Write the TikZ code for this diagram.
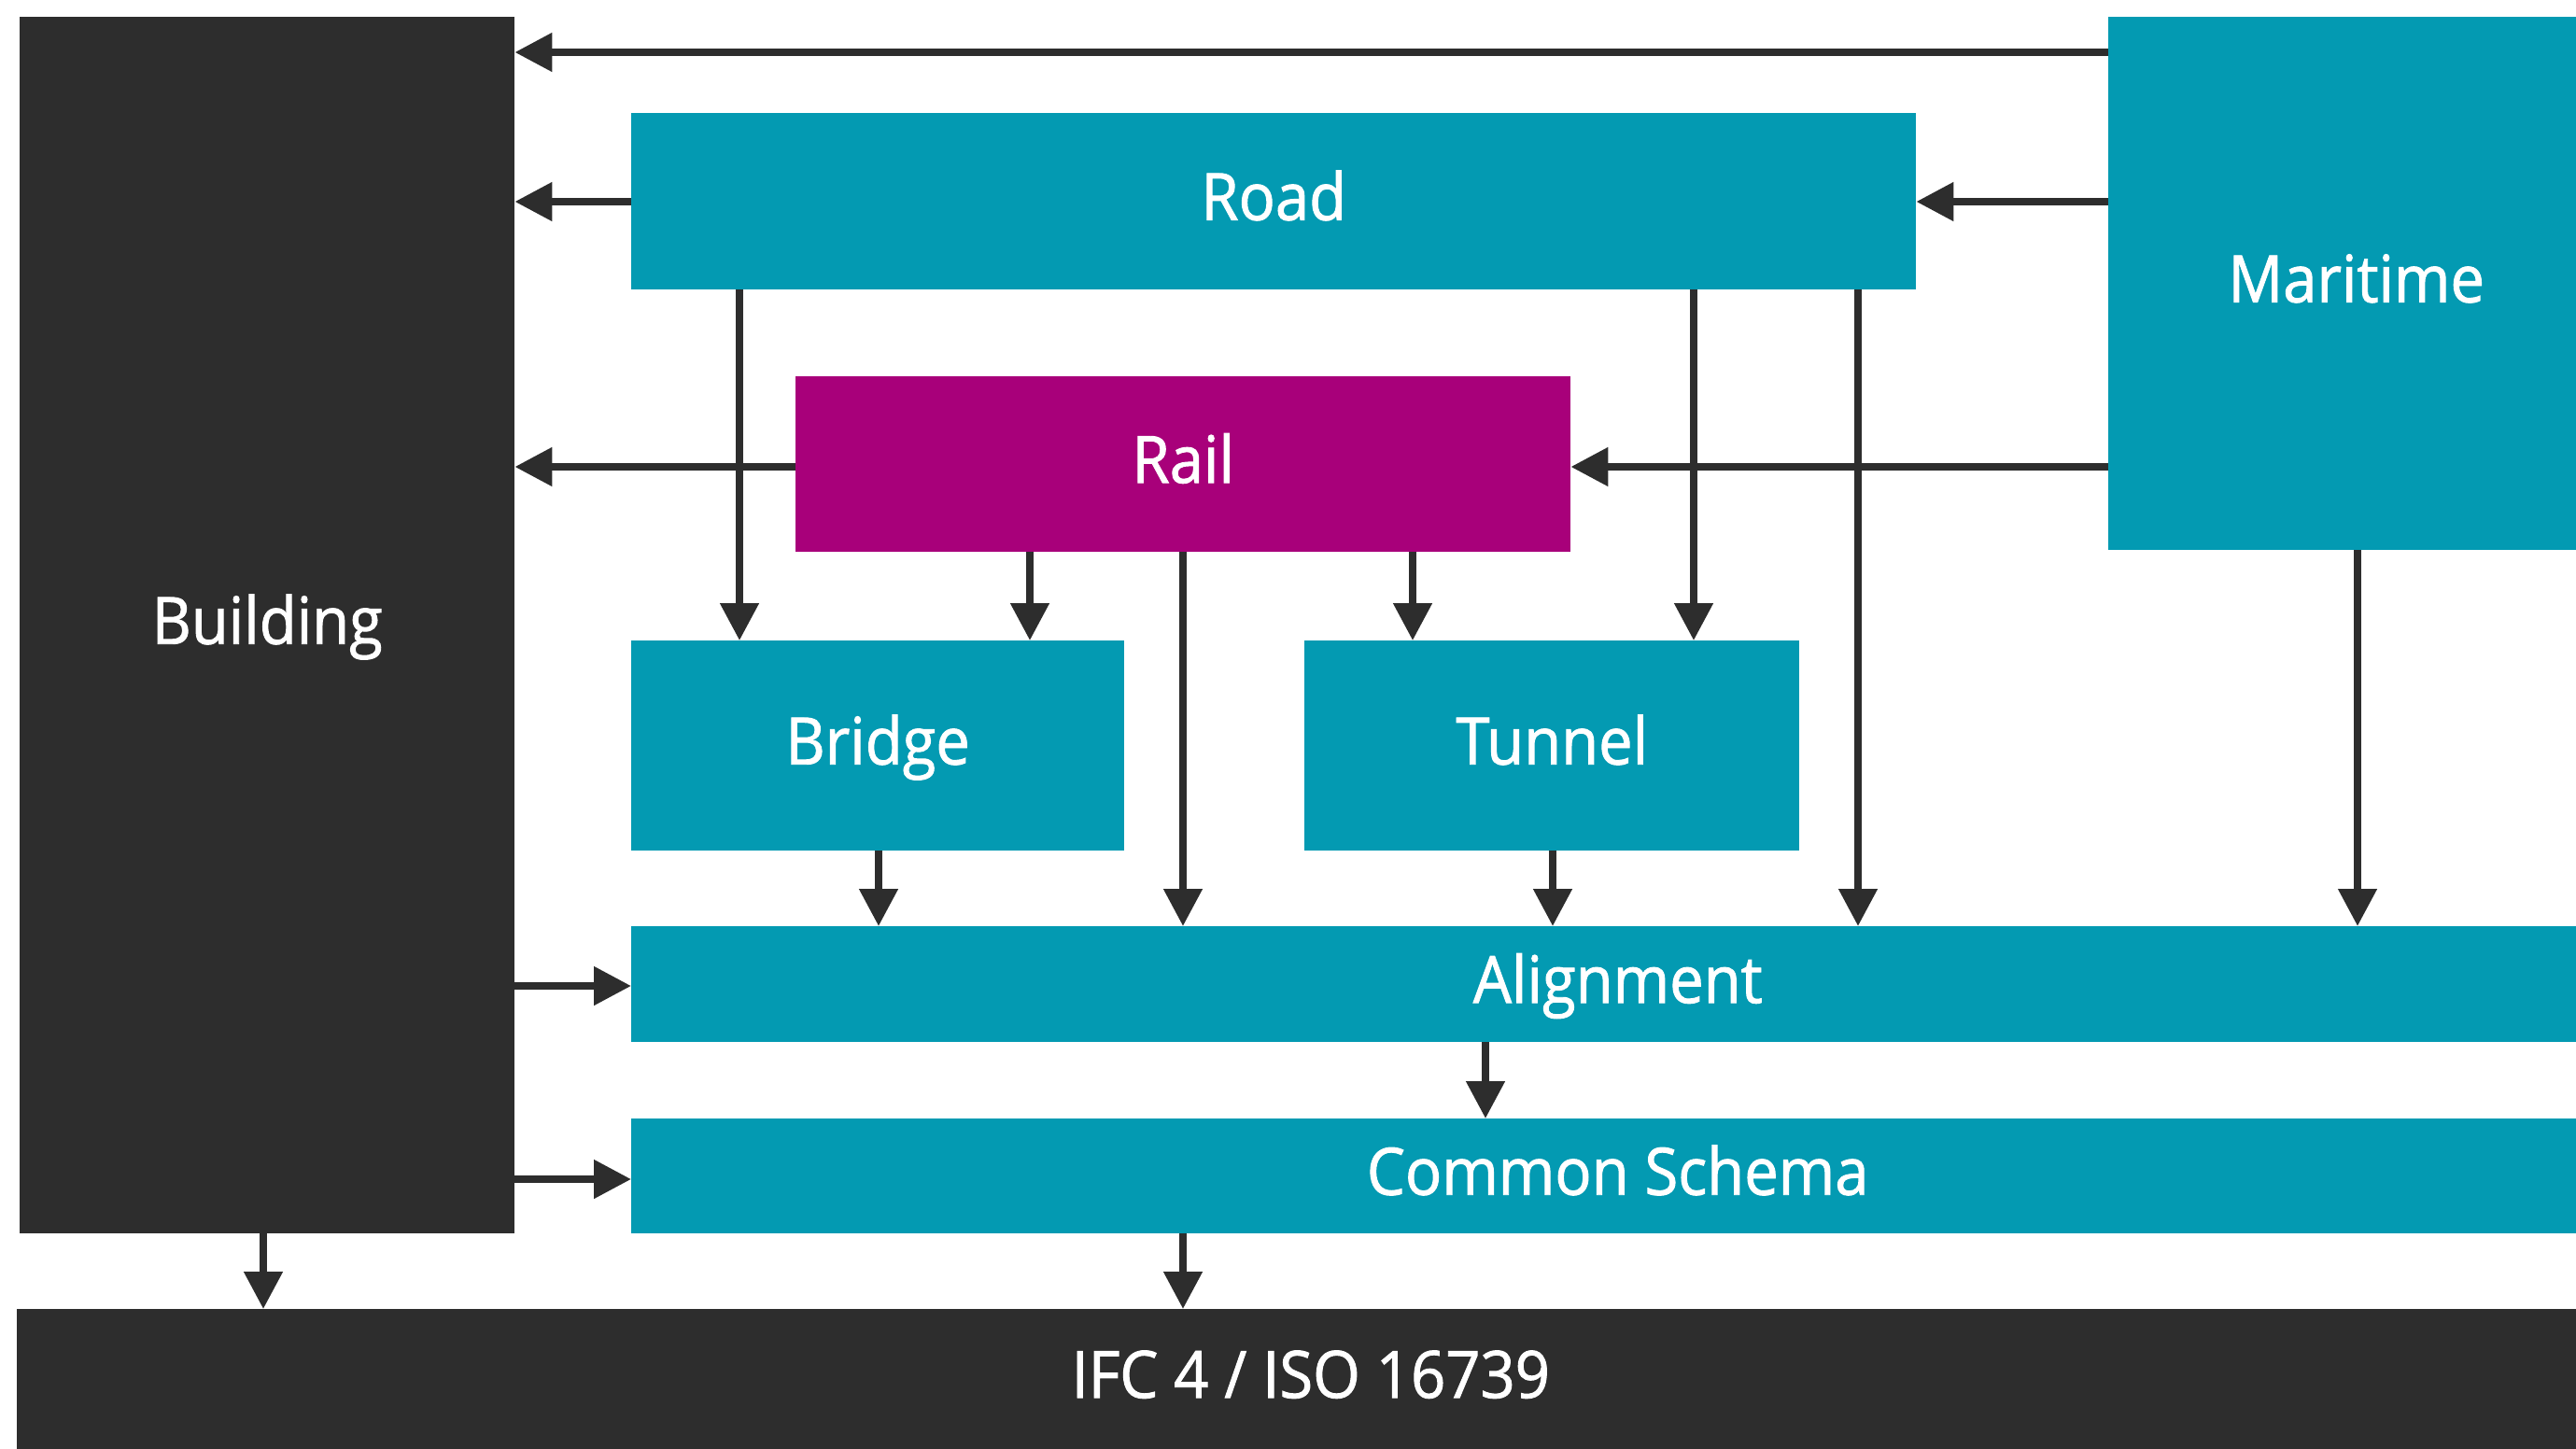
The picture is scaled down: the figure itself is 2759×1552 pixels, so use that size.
\documentclass[tikz,border=0pt]{standalone}
\usepackage{fontspec}
\setmainfont{Open Sans}[FakeStretch=0.93, FakeBold=1.3]
\usetikzlibrary{arrows.meta}
\definecolor{teal}{HTML}{039AB2}
\definecolor{dark}{HTML}{2D2D2D}
\definecolor{magenta}{HTML}{A8007A}
\tikzset{
  box/.style={fill=#1, draw=none, inner sep=0pt, anchor=north west, text=white,
    text height=40bp, text depth=0bp,
    font=\fontsize{70bp}{84bp}\selectfont},
  arr/.style={draw=dark, line width=8bp, -{Triangle[length=40bp,width=40bp]}}
}
\begin{document}
\begin{tikzpicture}[x=1bp,y=-1bp]
\useasboundingbox (0,0) rectangle (2759,1552);
\clip (0,0) rectangle (2759,1552);
\node[box=dark, minimum width=530bp, minimum height=1303bp] (building) at (21,18) {Building};
\node[box=teal, minimum width=1376bp, minimum height=189bp] (road) at (676,121) {Road};
\node[box=teal, minimum width=531bp, minimum height=571bp] (maritime) at (2258,18) {Maritime};
\node[box=magenta, minimum width=830bp, minimum height=188bp] (rail) at (852,403) {Rail};
\node[box=teal, minimum width=528bp, minimum height=225bp] (bridge) at (676,686) {Bridge};
\node[box=teal, minimum width=530bp, minimum height=225bp] (tunnel) at (1397,686) {Tunnel};
\node[box=teal, minimum width=2113bp, minimum height=124bp] (align) at (676,992) {Alignment};
\node[box=teal, minimum width=2113bp, minimum height=123bp] (common) at (676,1198) {Common Schema};
\node[box=dark, minimum width=2771bp, minimum height=150bp] (ifc) at (18,1402) {IFC 4 / ISO 16739};

% horizontal connectors
\draw[arr] (maritime.west |- 0,56) -- (building.east |- 0,56);
\draw[arr] (road.west |- 0,216) -- (building.east |- 0,216);
\draw[arr] (maritime.west |- 0,216) -- (road.east |- 0,216);
\draw[arr] (rail.west |- 0,500) -- (building.east |- 0,500);
\draw[arr] (maritime.west |- 0,500) -- (rail.east |- 0,500);
\draw[arr] (building.east |- 0,1056) -- (align.west |- 0,1056);
\draw[arr] (building.east |- 0,1263) -- (common.west |- 0,1263);
% vertical connectors
\draw[arr] (792,0 |- road.south) -- (792,0 |- bridge.north);
\draw[arr] (1103,0 |- rail.south) -- (1103,0 |- bridge.north);
\draw[arr] (1267,0 |- rail.south) -- (1267,0 |- align.north);
\draw[arr] (1513,0 |- rail.south) -- (1513,0 |- tunnel.north);
\draw[arr] (1814,0 |- road.south) -- (1814,0 |- tunnel.north);
\draw[arr] (1990,0 |- road.south) -- (1990,0 |- align.north);
\draw[arr] (2525,0 |- maritime.south) -- (2525,0 |- align.north);
\draw[arr] (941,0 |- bridge.south) -- (941,0 |- align.north);
\draw[arr] (1663,0 |- tunnel.south) -- (1663,0 |- align.north);
\draw[arr] (1591,0 |- align.south) -- (1591,0 |- common.north);
\draw[arr] (282,0 |- building.south) -- (282,0 |- ifc.north);
\draw[arr] (1267,0 |- common.south) -- (1267,0 |- ifc.north);
\end{tikzpicture}
\end{document}
